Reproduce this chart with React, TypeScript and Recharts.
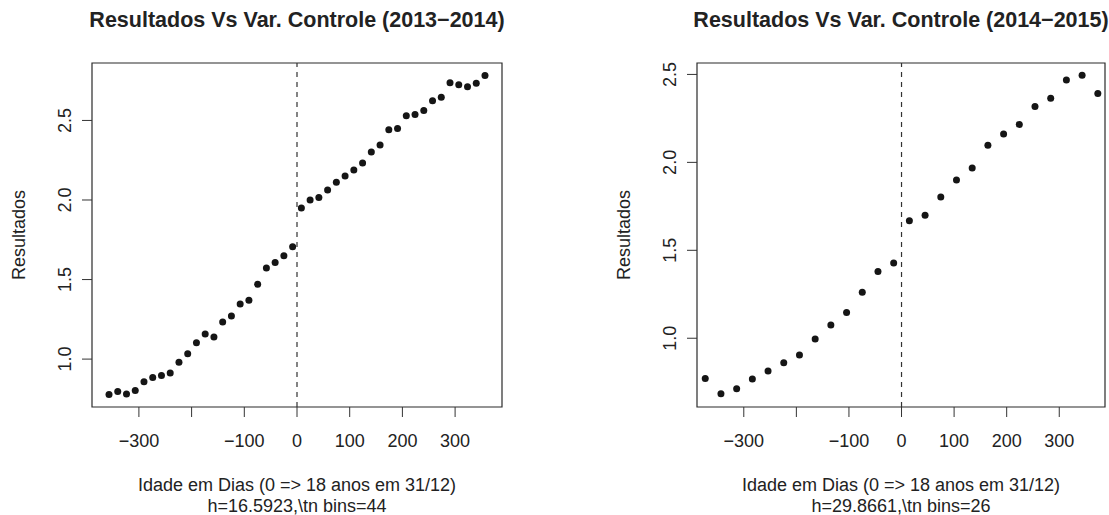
import React from "react";
import {
  ScatterChart,
  Scatter,
  XAxis,
  YAxis,
  ReferenceLine,
  ReferenceArea,
} from "recharts";

// bin centres (days) and mean results per bin, 2013-2014 (h=16.5923, 44 bins)
const binsLeftX = [
  -356.73, -340.14, -323.54, -306.95, -290.36, -273.77, -257.18, -240.58, -223.99, -207.4, -190.81,
  -174.22, -157.63, -141.03, -124.44, -107.85, -91.26, -74.67, -58.07, -41.48, -24.89, -8.3,
  8.3, 24.89, 41.48, 58.07, 74.67, 91.26, 107.85, 124.44, 141.03, 157.63, 174.22,
  190.81, 207.4, 223.99, 240.58, 257.18, 273.77, 290.36, 306.95, 323.54, 340.14, 356.73,
];
const resultsLeft = [
  0.778, 0.796, 0.78, 0.803, 0.857, 0.885, 0.897, 0.912, 0.981, 1.034, 1.103,
  1.158, 1.139, 1.233, 1.271, 1.347, 1.37, 1.471, 1.573, 1.607, 1.649, 1.706,
  1.95, 2.0, 2.015, 2.063, 2.111, 2.151, 2.189, 2.233, 2.302, 2.345, 2.441,
  2.449, 2.529, 2.538, 2.563, 2.624, 2.645, 2.737, 2.725, 2.712, 2.733, 2.783,
];

// 2014-2015 (h=29.8661, 26 bins)
const binsRightX = [
  -373.33, -343.46, -313.59, -283.73, -253.86, -224.0, -194.13, -164.26, -134.4, -104.53, -74.67, -44.8, -14.93,
  14.93, 44.8, 74.67, 104.53, 134.4, 164.26, 194.13, 224.0, 253.86, 283.73, 313.59, 343.46, 373.33,
];
const resultsRight = [
  0.771, 0.684, 0.713, 0.768, 0.813, 0.861, 0.904, 0.995, 1.075, 1.147, 1.261, 1.38, 1.428,
  1.668, 1.699, 1.803, 1.9, 1.968, 2.097, 2.162, 2.216, 2.317, 2.364, 2.469, 2.495, 2.392,
];

const xTicks = [-300, -200, -100, 0, 100, 200, 300];
const yTicks = [1.0, 1.5, 2.0, 2.5];
const xLabel = "Idade em Dias (0 => 18 anos em 31/12)";

const FONT = "'Liberation Sans', Arial, Helvetica, sans-serif";
const INK = "#222";

const fmtX = (v: number) => String(v).replace("-", "\u2212");

const XTick = ({ x, y, payload }: any) => {
  // R drops the -200 label because it would collide with its neighbours
  if (payload.value === -200) return <g />;
  return (
    <text x={x} y={y + 13} textAnchor="middle" fontSize={18} fontFamily={FONT} fill={INK}>
      {fmtX(payload.value)}
    </text>
  );
};

const YTick = ({ x, y, payload }: any) => (
  <text
    x={x}
    y={y}
    transform={`rotate(-90, ${x}, ${y})`}
    textAnchor="middle"
    fontSize={18}
    fontFamily={FONT}
    fill={INK}
  >
    {payload.value.toFixed(1)}
  </text>
);

const Dot = (props: any) => <circle cx={props.cx} cy={props.cy} r={3.5} fill="#151515" />;

interface PanelProps {
  left: number;
  width: number;
  plotLeft: number;
  rightMargin: number;
  title: string;
  subtitle: string;
  data: { x: number; y: number }[];
  xDomain: [number, number];
  yDomain: [number, number];
}

function Panel({ left, width, plotLeft, rightMargin, title, subtitle, data, xDomain, yDomain }: PanelProps) {
  const height = 515;
  const top = 63;
  const xAxisH = 108;
  const cx = plotLeft + (width - rightMargin - plotLeft) / 2;
  const cy = top + (height - xAxisH - top) / 2;
  return (
    <div style={{ position: "absolute", left, top: 0, width, height }}>
      <ScatterChart width={width} height={height} margin={{ top, right: rightMargin, bottom: 0, left: 0 }}>
        <XAxis
          type="number"
          dataKey="x"
          domain={xDomain}
          allowDataOverflow
          ticks={xTicks}
          axisLine={false}
          tickSize={10}
          tickMargin={17}
          tickLine={{ stroke: "#333" }}
          tick={<XTick />}
          height={xAxisH}
        />
        <YAxis
          type="number"
          dataKey="y"
          domain={yDomain}
          allowDataOverflow
          ticks={yTicks}
          axisLine={false}
          tickSize={10}
          tickMargin={11}
          tickLine={{ stroke: "#333" }}
          tick={<YTick />}
          width={plotLeft}
        />
        <ReferenceArea
          x1={xDomain[0]}
          x2={xDomain[1]}
          y1={yDomain[0]}
          y2={yDomain[1]}
          fill="none"
          stroke="#2a2a2a"
          strokeWidth={1.2}
          fillOpacity={0}
        />
        <ReferenceLine x={0} stroke="#333" strokeDasharray="5 5" strokeWidth={1.2} />
        <Scatter data={data} shape={<Dot />} isAnimationActive={false} />
      </ScatterChart>
      <svg
        width={width}
        height={height}
        style={{ position: "absolute", left: 0, top: 0, pointerEvents: "none" }}
        fontFamily={FONT}
        fill={INK}
      >
        <text x={cx} y={27} textAnchor="middle" fontSize={21.5} fontWeight="bold">
          {title}
        </text>
        <text x={cx} y={490.5} textAnchor="middle" fontSize={18}>
          {xLabel}
        </text>
        <text x={cx} y={511.5} textAnchor="middle" fontSize={18}>
          {subtitle}
        </text>
        <text
          x={plotLeft - 67}
          y={cy}
          transform={`rotate(-90, ${plotLeft - 67}, ${cy})`}
          textAnchor="middle"
          fontSize={18}
        >
          Resultados
        </text>
      </svg>
    </div>
  );
}

export default function App() {
  const leftData = binsLeftX.map((x, i) => ({ x, y: resultsLeft[i] }));
  const rightData = binsRightX.map((x, i) => ({ x, y: resultsRight[i] }));
  return (
    <div style={{ position: "absolute", left: 0, top: 0, width: 1109, height: 515, background: "#fff" }}>
      <Panel
        left={0}
        width={555}
        plotLeft={92}
        rightMargin={53}
        title="Resultados Vs Var. Controle (2013−2014)"
        subtitle="h=16.5923,\tn bins=44"
        data={leftData}
        xDomain={[-389, 389]}
        yDomain={[0.699, 2.861]}
      />
      <Panel
        left={555}
        width={554}
        plotLeft={142}
        rightMargin={4}
        title="Resultados Vs Var. Controle (2014−2015)"
        subtitle="h=29.8661,\tn bins=26"
        data={rightData}
        xDomain={[-389, 387]}
        yDomain={[0.609, 2.565]}
      />
    </div>
  );
}
